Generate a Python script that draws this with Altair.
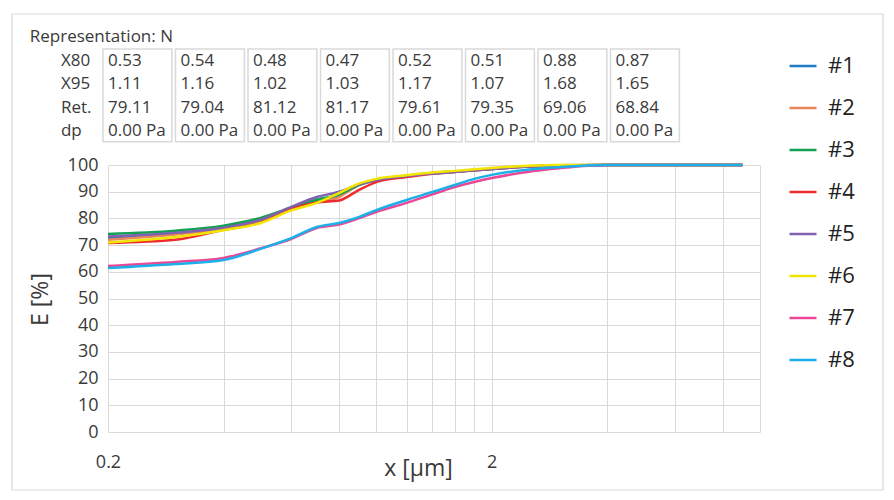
import altair as alt
import pandas as pd

# ---------------- data ----------------
SERIES = ["#1", "#2", "#3", "#4", "#5", "#6", "#7", "#8"]
COLORS = ["#1F7BC4", "#E8875A", "#11A150", "#EE2A30", "#8062B0", "#F2E500", "#EC4796", "#1BB0EA"]

X = [0.2, 0.3, 0.4, 0.5, 0.6, 0.7, 0.8, 0.9, 1.0, 1.2, 1.4, 1.6, 1.8, 2.0, 2.5, 3.0, 4.0, 6.0, 9.0]
E1 = [72.5, 74.5, 76.5, 79.5, 84.0, 87.0, 88.5, 92.5, 94.3, 95.9, 96.9, 97.5, 98.0, 98.5, 99.4, 99.8, 100, 100, 100]
E2 = [72.0, 74.0, 76.0, 78.8, 83.5, 86.0, 88.0, 92.5, 94.3, 95.9, 96.9, 97.5, 98.1, 98.6, 99.5, 99.9, 100, 100, 100]
E3 = [74.2, 75.4, 77.3, 80.2, 84.0, 87.0, 89.0, 92.5, 94.4, 96.0, 97.0, 97.6, 98.1, 98.6, 99.5, 99.9, 100, 100, 100]
E4 = [70.8, 72.0, 75.7, 78.5, 83.5, 86.0, 86.7, 90.6, 93.6, 95.5, 96.7, 97.4, 98.0, 98.5, 99.4, 99.8, 100, 100, 100]
E5 = [73.2, 74.6, 76.5, 79.5, 84.3, 88.0, 90.0, 92.7, 94.4, 95.9, 96.8, 97.4, 98.0, 98.5, 99.4, 99.8, 100, 100, 100]
E6 = [71.0, 73.0, 75.6, 78.3, 83.0, 85.8, 89.5, 93.0, 94.8, 96.2, 97.2, 97.8, 98.4, 98.9, 99.7, 100, 100, 100, 100]
E7 = [62.2, 63.7, 65.2, 68.8, 72.3, 76.4, 77.7, 80.0, 82.4, 85.8, 89.0, 91.7, 93.6, 95.1, 97.5, 98.8, 100, 100, 100]
E8 = [61.4, 62.9, 64.4, 68.6, 72.6, 76.8, 78.3, 80.5, 83.1, 86.9, 89.9, 92.5, 94.8, 96.3, 98.3, 99.2, 100, 100, 100]
E_ALL = [E1, E2, E3, E4, E5, E6, E7, E8]

X_GRID = [0.2, 0.4, 0.6, 0.8, 1.0, 1.2, 1.4, 1.6, 1.8, 2.0, 4.0, 6.0, 8.0, 10.0]
X_LABELS = [0.2, 2]
Y_TICKS = [0, 10, 20, 30, 40, 50, 60, 70, 80, 90, 100]

TABLE_TITLE = "Representation: N"
TABLE_ROWS = ["X80", "X95", "Ret.", "dp"]
X80 = [0.53, 0.54, 0.48, 0.47, 0.52, 0.51, 0.88, 0.87]
X95 = [1.11, 1.16, 1.02, 1.03, 1.17, 1.07, 1.68, 1.65]
RET = [79.11, 79.04, 81.12, 81.17, 79.61, 79.35, 69.06, 68.84]
DP = [0.00, 0.00, 0.00, 0.00, 0.00, 0.00, 0.00, 0.00]

FONT = "Open Sans"
TXT = "#3A3A3A"
GRID = "#D9D9D9"

# ---------------- tables ----------------
line_rows = []
for s, vals in zip(SERIES, E_ALL):
    for x, e in zip(X, vals):
        line_rows.append({"x": x, "E": e, "series": s})
df_lines = pd.DataFrame(line_rows)

cells = []
for r, (name, vals, fmt) in enumerate(zip(TABLE_ROWS, [X80, X95, RET, DP],
                                          ["{:.2f}", "{:.2f}", "{:.2f}", "{:.2f} Pa"])):
    for c, v in enumerate(vals):
        cells.append({"r": r, "c": c, "text": fmt.format(v)})
df_cells = pd.DataFrame(cells)
df_rowlab = pd.DataFrame({"r": list(range(len(TABLE_ROWS))), "text": TABLE_ROWS})
df_boxes = pd.DataFrame({"c": list(range(len(X80)))})

# ---------------- chart ----------------
label_test = "indexof([" + ",".join(str(v) for v in X_LABELS) + "], datum.value) >= 0"

frame = alt.Chart(pd.DataFrame({"a": [0]})).mark_rect(
    filled=False, stroke=GRID, strokeWidth=1.2
).encode(x=alt.value(-96), x2=alt.value(775), y=alt.value(-151), y2=alt.value(325))

lines = alt.Chart(df_lines).mark_line(interpolate="monotone", strokeWidth=2.5).encode(
    x=alt.X("x:Q",
            scale=alt.Scale(type="log", domain=[0.2, 10], nice=False),
            axis=alt.Axis(values=X_GRID, format=".1~f",
                          labelExpr=label_test + " ? datum.label : ''",
                          grid=True, gridColor=GRID, ticks=False, tickSize=0,
                          domain=False, labelPadding=21, labelFontSize=18,
                          labelFlush=False, labelOverlap=False,
                          labelFont=FONT, labelColor=TXT,
                          title="x [µm]", titleFont=FONT, titleFontSize=23,
                          titleFontWeight="normal", titleColor=TXT,
                          titleX=310, titleY=36, titleBaseline="middle")),
    y=alt.Y("E:Q",
            scale=alt.Scale(domain=[0, 100], nice=False),
            axis=alt.Axis(values=Y_TICKS, grid=True, gridColor=GRID, ticks=False,
                          tickSize=0, domain=False, labelPadding=10, labelFontSize=18,
                          labelFont=FONT, labelColor=TXT,
                          title="E [%]", titleFont=FONT, titleFontSize=23,
                          titleFontWeight="normal", titleColor=TXT,
                          titleX=-68, titleY=134, titleAngle=-90,
                          titleAlign="center", titleBaseline="middle")),
    color=alt.Color("series:N",
                    scale=alt.Scale(domain=SERIES, range=COLORS),
                    legend=alt.Legend(orient="none", legendX=680, legendY=-114, title=None,
                                      symbolType="stroke", symbolSize=729,
                                      symbolStrokeWidth=2.5, labelFontSize=22,
                                      labelFont=FONT, labelColor="#222222",
                                      labelOffset=10, rowPadding=16)),
)

TX = alt.Scale(domain=[0, 8], range=[-5, 575], nice=False, zero=False)
TY = alt.Scale(domain=[0, 4], range=[-116, -22], nice=False, zero=False)

boxes = alt.Chart(df_boxes).mark_rect(fill="white", stroke=GRID, strokeWidth=1.5).transform_calculate(
    c2="datum.c + 0.95", y0="0", y1="3.95"
).encode(
    x=alt.X("c:Q", scale=TX, axis=None),
    x2="c2:Q",
    y=alt.Y("y0:Q", scale=TY, axis=None),
    y2="y1:Q",
)

cell_text = alt.Chart(df_cells).mark_text(
    align="left", baseline="middle", font=FONT, fontSize=17, color=TXT
).transform_calculate(tx="datum.c + 0.07", ty="datum.r + 0.5").encode(
    x=alt.X("tx:Q", scale=TX, axis=None),
    y=alt.Y("ty:Q", scale=TY, axis=None),
    text="text:N",
)

row_text = alt.Chart(df_rowlab).mark_text(
    align="left", baseline="middle", font=FONT, fontSize=17, color=TXT
).transform_calculate(tx="-0.58", ty="datum.r + 0.5").encode(
    x=alt.X("tx:Q", scale=TX, axis=None),
    y=alt.Y("ty:Q", scale=TY, axis=None),
    text="text:N",
)

title_text = alt.Chart(pd.DataFrame({"text": [TABLE_TITLE]})).mark_text(
    align="left", baseline="middle", font=FONT, fontSize=17, color=TXT
).transform_calculate(tx="-1.01", ty="-0.5").encode(
    x=alt.X("tx:Q", scale=TX, axis=None),
    y=alt.Y("ty:Q", scale=TY, axis=None),
    text="text:N",
)

table = alt.layer(boxes, cell_text, row_text, title_text)

chart = alt.layer(frame, lines, table).resolve_scale(
    x="independent", y="independent"
).properties(
    width=652, height=267,
    autosize=alt.AutoSizeParams(type="none"),
    padding={"left": 108, "top": 165, "right": 134, "bottom": 68},
    background="white",
).configure_view(stroke=None)

chart.save("out.html", embed_options={"renderer": "svg", "actions": False})
